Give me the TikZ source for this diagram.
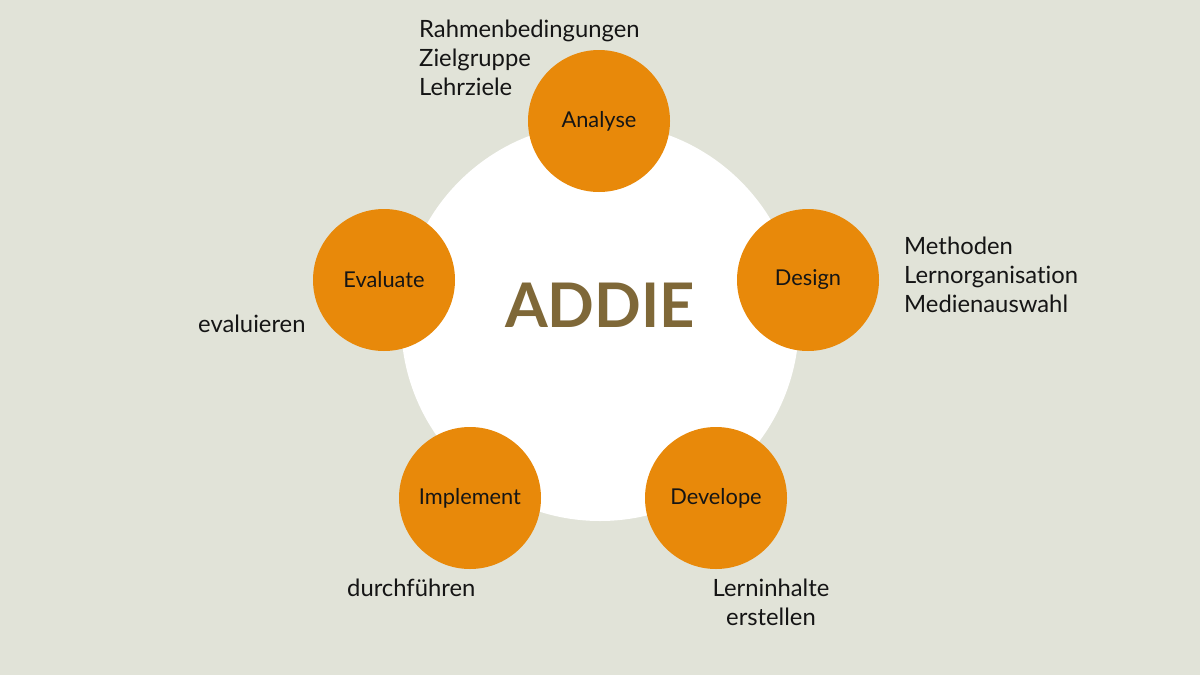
\documentclass[tikz,border=0pt]{standalone}
\usepackage{fontspec}
\setmainfont[Ligatures=NoCommon]{Lato}
\definecolor{bg}{HTML}{E1E3D8}
\definecolor{orng}{HTML}{E8890A}
\definecolor{brn}{HTML}{7F6838}
\definecolor{txt}{HTML}{151515}
\tikzset{
  phase/.style={circle, fill=orng, minimum size=142pt, inner sep=0pt, text=txt, font=\fontsize{21.8}{26}\selectfont},
  note/.style={text=txt, font=\fontsize{23.8}{29}\selectfont, inner sep=0pt},
}
\begin{document}
\begin{tikzpicture}[x=1pt,y=-1pt]
\fill[bg] (0,0) rectangle (1200,675);
\useasboundingbox (0,0) rectangle (1200,675);
\node[circle, fill=white, minimum size=398pt, inner sep=0pt] (hub) at (600,322) {};
\node[text=brn, font=\fontsize{61.5}{68}\selectfont\bfseries] (title) at (600,305) {ADDIE};
\node[phase] (analyse) at (599,121) {Analyse};
\node[phase] (design) at (808,280) {Design};
\node[phase] (develope) at (716,498) {Develope};
\node[phase] (implement) at (470,498) {Implement};
\node[phase] (evaluate) at (384,280) {Evaluate};
\node[note, anchor=west, align=left] (nA) at (419,58) {Rahmenbedingungen\\Zielgruppe\\Lehrziele};
\node[note, anchor=west, align=left] (nD) at (904,275) {Methoden\\Lernorganisation\\Medienauswahl};
\node[note, anchor=center, align=center] (nDv) at (771,602) {Lerninhalte\\erstellen};
\node[note, anchor=west] (nI) at (347,588) {durchführen};
\node[note, anchor=west] (nE) at (198,324) {evaluieren};
\end{tikzpicture}
\end{document}
